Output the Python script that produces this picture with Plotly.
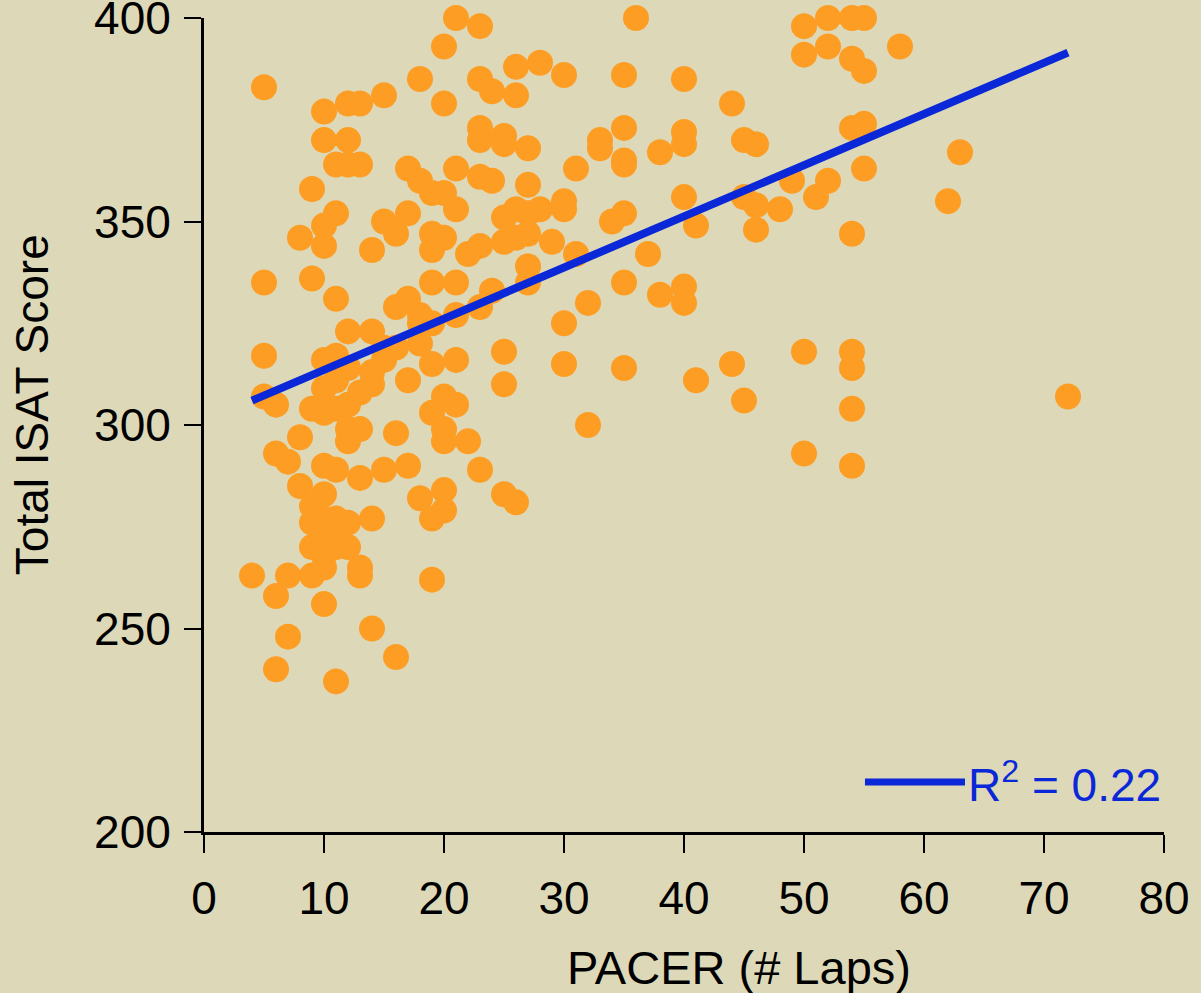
import plotly.graph_objects as go

# ---- data (PACER laps vs total ISAT score) ----
pacer_laps = [
    4,
    5, 5, 5, 5,
    6, 6, 6, 6,
    7, 7, 7,
    8, 8, 8,
    9, 9, 9, 9, 9, 9, 9,
    10, 10, 10, 10, 10, 10, 10, 10, 10, 10, 10, 10, 10, 10,
    11, 11, 11, 11, 11, 11, 11, 11, 11, 11, 11,
    12, 12, 12, 12, 12, 12, 12, 12, 12, 12,
    13, 13, 13, 13, 13, 13, 13,
    14, 14, 14, 14, 14, 14,
    15, 15, 15, 15, 15,
    16, 16, 16, 16, 16,
    17, 17, 17, 17, 17,
    18, 18, 18, 18, 18, 18,
    19, 19, 19, 19, 19, 19, 19, 19, 19,
    20, 20, 20, 20, 20, 20, 20, 20, 20,
    21, 21, 21, 21, 21, 21, 21,
    22, 22,
    23, 23, 23, 23, 23, 23, 23, 23,
    24, 24, 24,
    25, 25, 25, 25, 25, 25, 25,
    26, 26, 26, 26, 26,
    27, 27, 27, 27, 27, 27,
    28, 28,
    29,
    30, 30, 30, 30, 30,
    31, 31,
    32, 32,
    33, 33,
    34,
    35, 35, 35, 35, 35, 35, 35,
    36,
    37,
    38, 38,
    40, 40, 40, 40, 40, 40,
    41, 41,
    44, 44,
    45, 45, 45,
    46, 46, 46,
    48,
    49,
    50, 50, 50, 50,
    51,
    52, 52, 52,
    54, 54, 54, 54, 54, 54, 54, 54,
    55, 55, 55, 55,
    58,
    62,
    63,
    72,
]

isat_score = [
    263,
    383, 335, 317, 307,
    305, 293, 258, 240,
    291, 263, 248,
    346, 297, 285,
    358, 336, 304, 280, 276, 270, 263,
    377, 370, 349, 344, 316, 309, 303, 290, 283, 277, 272, 268, 265, 256,
    364, 352, 331, 317, 311, 304, 289, 277, 273, 270, 237,
    379, 370, 364, 323, 314, 305, 299, 296, 276, 270,
    379, 364, 308, 299, 287, 265, 263,
    343, 323, 313, 310, 277, 250,
    381, 350, 319, 316, 289,
    347, 329, 319, 298, 243,
    363, 352, 331, 311, 290,
    385, 360, 327, 325, 320, 282,
    357, 347, 343, 335, 325, 315, 303, 277, 262,
    393, 379, 357, 346, 307, 299, 296, 284, 279,
    400, 363, 353, 335, 327, 316, 305,
    342, 296,
    398, 385, 373, 370, 361, 344, 329, 289,
    382, 360, 333,
    371, 369, 351, 345, 318, 310, 283,
    388, 381, 353, 346, 281,
    368, 359, 352, 347, 339, 335,
    389, 353,
    345,
    386, 355, 353, 325, 315,
    363, 342,
    330, 300,
    370, 368,
    350,
    386, 373, 365, 364, 352, 335, 314,
    400,
    342,
    367, 332,
    385, 372, 369, 356, 334, 330,
    349, 311,
    379, 315,
    370, 356, 306,
    369, 354, 348,
    353,
    360,
    398, 391, 318, 293,
    356,
    400, 393, 360,
    400, 390, 373, 347, 318, 314, 304, 290,
    400, 387, 374, 363,
    393,
    355,
    367,
    307,
]

# linear trend line endpoints as drawn in the reference
trend_x = [4, 72]
trend_y = [306.0, 391.5]
r_squared = 0.22

x_ticks = [0, 10, 20, 30, 40, 50, 60, 70, 80]
y_ticks = [200, 250, 300, 350, 400]

x_title = "PACER (# Laps)"
y_title = "Total ISAT Score"

# ---- styling ----
BG = "#DDD9B8"
ORANGE = "#FD9D24"
BLUE = "#0A28D8"
FONT = "Liberation Sans, Arial, sans-serif"

fig = go.Figure()

fig.add_trace(go.Scatter(
    x=pacer_laps, y=isat_score, mode="markers",
    marker=dict(size=26, color=ORANGE, line=dict(width=0)),
    cliponaxis=False, showlegend=False,
))

fig.add_trace(go.Scatter(
    x=trend_x, y=trend_y, mode="lines",
    line=dict(color=BLUE, width=8),
    cliponaxis=False, showlegend=False,
))

fig.update_layout(
    width=1201, height=993,
    margin=dict(l=204, r=37, t=18, b=161, autoexpand=False),
    paper_bgcolor=BG, plot_bgcolor=BG,
    font=dict(family=FONT, size=46, color="black"),
    showlegend=False,
)

fig.update_xaxes(
    range=[0, 80], tickvals=x_ticks, ticktext=[str(v) for v in x_ticks],
    showgrid=False, zeroline=False, automargin=False,
    showline=True, linecolor="black", linewidth=3,
    ticks="outside", ticklen=18, tickwidth=2, tickcolor="black",
    tickfont=dict(size=46, family=FONT, color="black"),
    ticklabelstandoff=6, ticklabeloverflow="allow",
)
fig.update_yaxes(
    range=[200, 400], tickvals=y_ticks, ticktext=[str(v) for v in y_ticks],
    showgrid=False, zeroline=False, automargin=False,
    showline=True, linecolor="black", linewidth=3,
    ticks="outside", ticklen=17, tickwidth=2, tickcolor="black",
    tickfont=dict(size=46, family=FONT, color="black"),
    ticklabelstandoff=4, ticklabeloverflow="allow",
)

# axis titles
fig.add_annotation(
    text=x_title, xref="paper", yref="paper", x=0.557, y=-0.167,
    xanchor="center", yanchor="middle", showarrow=False,
    font=dict(size=47, family=FONT, color="black"),
)
fig.add_annotation(
    text=y_title, xref="paper", yref="paper", x=-0.179, y=0.5246,
    xanchor="center", yanchor="middle", showarrow=False, textangle=-90,
    font=dict(size=46, family=FONT, color="black"),
)

# R^2 legend: line sample + text
fig.add_shape(
    type="line", xref="paper", yref="paper",
    x0=0.6885, x1=0.7927, y0=0.0614, y1=0.0614,
    line=dict(color=BLUE, width=7),
)
fig.add_annotation(
    text=f"R<sup>2</sup> = {r_squared:.2f}", xref="paper", yref="paper",
    x=0.794, y=0.0614, xanchor="left", yanchor="middle", showarrow=False,
    font=dict(size=46, family=FONT, color=BLUE),
)

fig.write_html("out.html")
